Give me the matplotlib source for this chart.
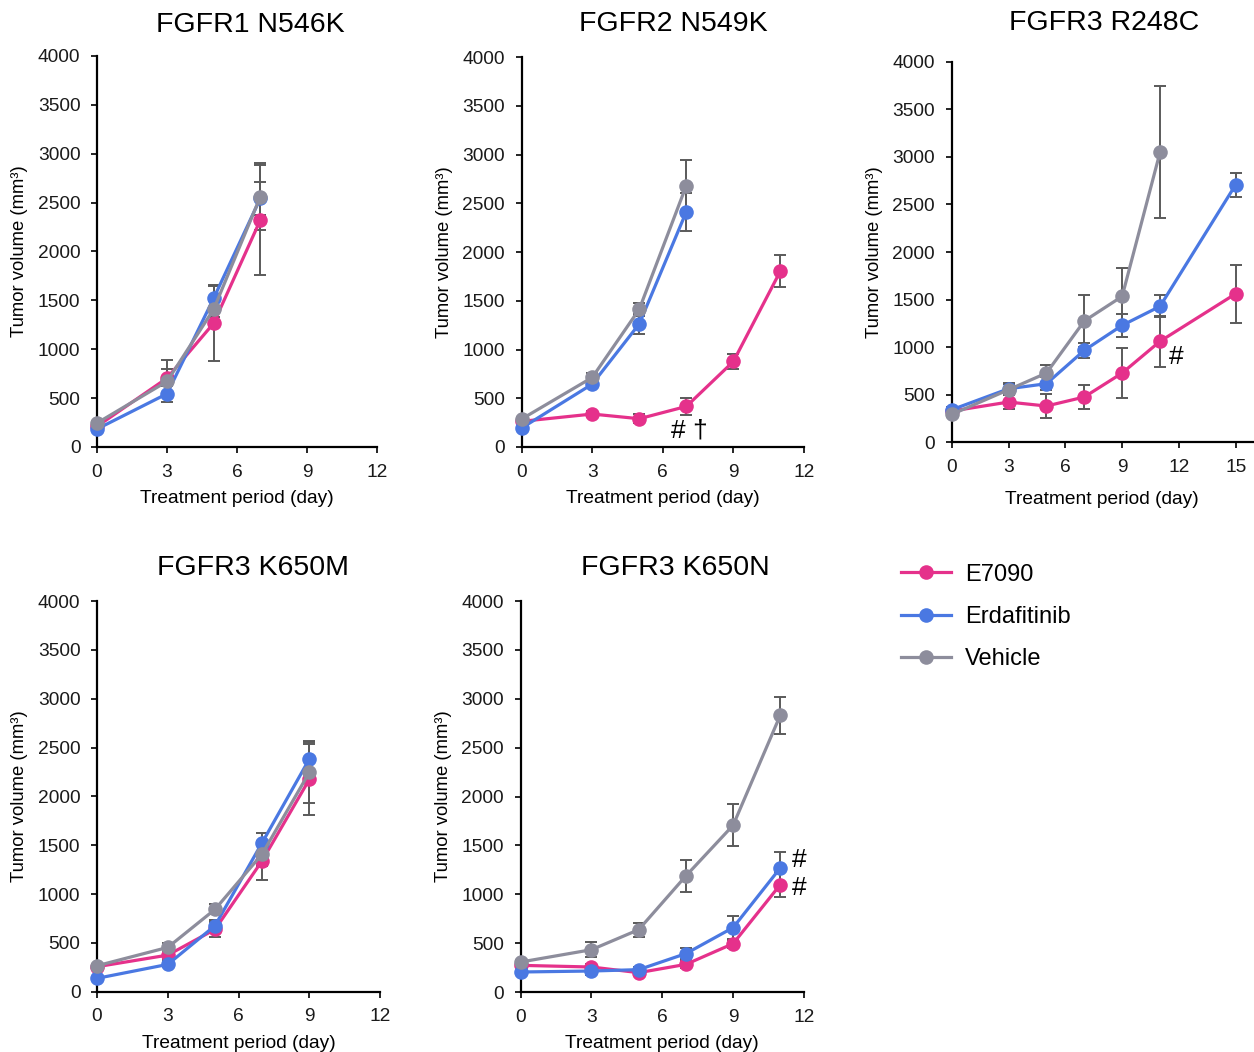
import matplotlib
matplotlib.use("Agg")
import matplotlib.pyplot as plt
import numpy as np

plt.rcParams['font.family'] = ['Liberation Sans', 'DejaVu Sans']

# colours of the three groups
c_e7090 = '#E5318B'
c_erda = '#4A78E2'
c_veh = '#8D8D9C'
c_err = '#5A5A5A'

groups = ['E7090', 'Erdafitinib', 'Vehicle']
colors = [c_e7090, c_erda, c_veh]

# ---- FGFR1 N546K
p1_days_e = [0, 3, 5, 7]
p1_e7090 = [211, 705, 1267, 2323]
p1_e7090_err = [20, 190, 385, 560]
p1_days_r = [0, 3, 5, 7]
p1_erda = [184, 545, 1523, 2545]
p1_erda_err = [15, 80, 135, 170]
p1_days_v = [0, 3, 5, 7]
p1_veh = [245, 671, 1410, 2562]
p1_veh_err = [20, 126, 80, 345]

# ---- FGFR2 N549K
p2_days_e = [0, 3, 5, 7, 9, 11]
p2_e7090 = [263, 338, 290, 416, 877, 1805]
p2_e7090_err = [20, 30, 45, 85, 80, 160]
p2_days_r = [0, 3, 5, 7]
p2_erda = [195, 645, 1263, 2413]
p2_erda_err = [15, 40, 105, 195]
p2_days_v = [0, 3, 5, 7]
p2_veh = [287, 713, 1413, 2682]
p2_veh_err = [25, 50, 65, 265]

# ---- FGFR3 R248C
p3_days_e = [0, 3, 5, 7, 9, 11, 15]
p3_e7090 = [326, 421, 379, 474, 726, 1060, 1561]
p3_e7090_err = [25, 70, 130, 130, 260, 270, 305]
p3_days_r = [0, 3, 5, 7, 9, 11, 15]
p3_erda = [340, 561, 614, 965, 1228, 1428, 2709]
p3_erda_err = [25, 60, 70, 80, 120, 115, 125]
p3_days_v = [0, 3, 5, 7, 9, 11]
p3_veh = [291, 551, 726, 1274, 1533, 3049]
p3_veh_err = [25, 60, 90, 270, 295, 695]

# ---- FGFR3 K650M
p4_days_e = [0, 3, 5, 7, 9]
p4_e7090 = [256, 375, 638, 1341, 2174]
p4_e7090_err = [20, 40, 80, 200, 365]
p4_days_r = [0, 3, 5, 7, 9]
p4_erda = [137, 280, 676, 1526, 2382]
p4_erda_err = [15, 30, 60, 100, 180]
p4_days_v = [0, 3, 5, 7, 9]
p4_veh = [266, 454, 843, 1410, 2246]
p4_veh_err = [20, 40, 50, 120, 310]

# ---- FGFR3 K650N
p5_days_e = [0, 3, 5, 7, 9, 11]
p5_e7090 = [273, 256, 198, 283, 495, 1099]
p5_e7090_err = [20, 30, 25, 35, 40, 130]
p5_days_r = [0, 3, 5, 7, 9, 11]
p5_erda = [205, 215, 229, 393, 659, 1270]
p5_erda_err = [15, 40, 25, 60, 115, 165]
p5_days_v = [0, 3, 5, 7, 9, 11]
p5_veh = [307, 433, 638, 1188, 1706, 2833]
p5_veh_err = [25, 75, 70, 160, 215, 190]

panels = [
    ('FGFR1 N546K', [(p1_days_e, p1_e7090, p1_e7090_err), (p1_days_r, p1_erda, p1_erda_err), (p1_days_v, p1_veh, p1_veh_err)]),
    ('FGFR2 N549K', [(p2_days_e, p2_e7090, p2_e7090_err), (p2_days_r, p2_erda, p2_erda_err), (p2_days_v, p2_veh, p2_veh_err)]),
    ('FGFR3 R248C', [(p3_days_e, p3_e7090, p3_e7090_err), (p3_days_r, p3_erda, p3_erda_err), (p3_days_v, p3_veh, p3_veh_err)]),
    ('FGFR3 K650M', [(p4_days_e, p4_e7090, p4_e7090_err), (p4_days_r, p4_erda, p4_erda_err), (p4_days_v, p4_veh, p4_veh_err)]),
    ('FGFR3 K650N', [(p5_days_e, p5_e7090, p5_e7090_err), (p5_days_r, p5_erda, p5_erda_err), (p5_days_v, p5_veh, p5_veh_err)]),
]

# significance marks: (panel index, text, day, volume)
marks = [
    (1, '# \u2020', 7.15, 174),
    (2, '#', 11.85, 895),
    (4, '#', 11.8, 1350),
    (4, '#', 11.8, 1064),
]

# axes rectangles [left, bottom, width, height] in figure fractions
rects = [
    [0.0774, 0.5751, 0.2233, 0.3717],
    [0.4160, 0.5751, 0.2251, 0.3707],
    [0.7590, 0.5798, 0.2400, 0.3613],
    [0.0774, 0.0573, 0.2257, 0.3714],
    [0.4152, 0.0570, 0.2259, 0.3717],
]
xmax = [12, 12, 15.9, 12, 12]
xticks = [np.arange(0, 13, 3), np.arange(0, 13, 3), np.arange(0, 16, 3),
          np.arange(0, 13, 3), np.arange(0, 13, 3)]
title_x = [0.546, 0.536, 0.505, 0.55, 0.545]
title_pad = [17, 19, 23, 19, 19]
xlabel_pad = [7, 7, 11, 7, 7]

fig = plt.figure(figsize=(12.54, 10.52), dpi=100)
axes = []
for i, (name, series) in enumerate(panels):
    ax = fig.add_axes(rects[i])
    axes.append(ax)
    for (d, v, e), col, lab in zip(series, colors, groups):
        ax.errorbar(d, v, yerr=e, fmt='none', ecolor=c_err, elinewidth=1.4,
                    capsize=4, capthick=1.4, zorder=2)
    for (d, v, e), col, lab in zip(series, colors, groups):
        ax.plot(d, v, color=col, lw=2.3, marker='o', markersize=10.5,
                markeredgewidth=0, label=lab, zorder=3)
    ax.set_xlim(0, xmax[i])
    ax.set_ylim(0, 4000)
    ax.set_xticks(xticks[i])
    ax.set_yticks(np.arange(0, 4001, 500))
    ax.spines['top'].set_visible(False)
    ax.spines['right'].set_visible(False)
    ax.spines['left'].set_linewidth(1.6)
    ax.spines['bottom'].set_linewidth(1.6)
    ax.tick_params(direction='out', length=4.5, width=1.2, labelsize=13.8,
                   colors='black', labelcolor='#1a1a1a', pad=7.5)
    ax.set_xlabel('Treatment period (day)', fontsize=13.8, labelpad=xlabel_pad[i])
    ax.set_ylabel('Tumor volume (mm\u00b3)', fontsize=13.3, labelpad=7)
    ax.set_title(name, fontsize=20.5, x=title_x[i], pad=title_pad[i])
    for a in ax.get_children():
        a.set_clip_on(False)

for idx, txt, xd, yd in marks:
    axes[idx].text(xd, yd, txt, fontsize=19, ha='center', va='center')

handles, labels = axes[0].get_legend_handles_labels()
fig.legend(handles, labels, loc='center left', bbox_to_anchor=(901 / 1254, 1 - 617 / 1052),
           frameon=False, fontsize=17, handlelength=2.1, handletextpad=0.6,
           labelspacing=0.86, borderpad=0, borderaxespad=0)

plt.savefig('out.png', dpi=100)
